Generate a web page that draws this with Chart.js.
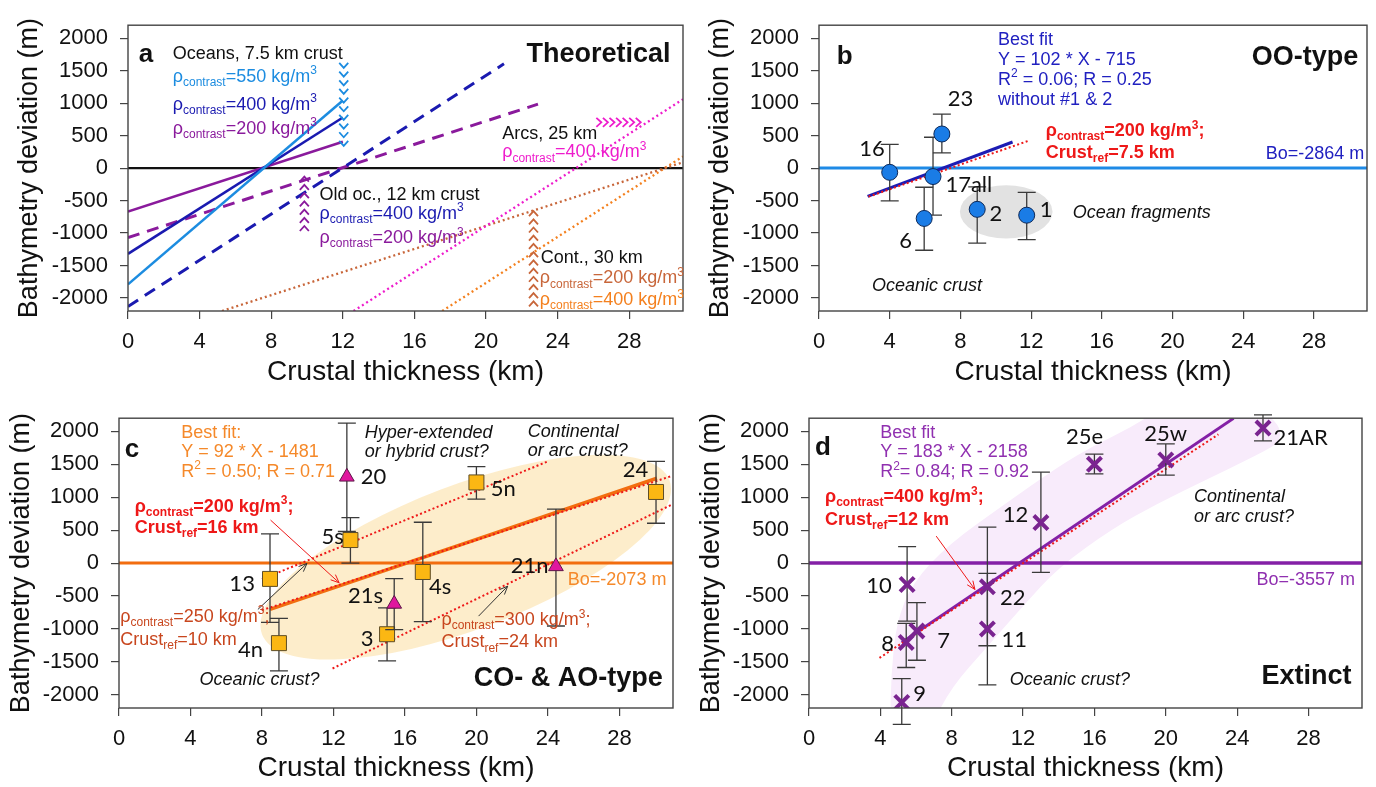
<!DOCTYPE html>
<html>
<head>
<meta charset="utf-8">
<script src="https://cdn.jsdelivr.net/npm/chart.js@4.4.1/dist/chart.umd.min.js"></script>
<style>
  body { margin: 0; background: #fff; }
  canvas { position: absolute; }
</style>
</head>
<body>
<canvas id="chartA" width="688" height="393" style="left:0;top:0"></canvas>
<canvas id="chartB" width="688" height="393" style="left:688px;top:0"></canvas>
<canvas id="chartC" width="688" height="394" style="left:0;top:393px"></canvas>
<canvas id="chartD" width="688" height="394" style="left:688px;top:393px"></canvas>
<script>
// ---- axes ----
const xTicks = [0, 4, 8, 12, 16, 20, 24, 28]
const yTicks = [-2000, -1500, -1000, -500, 0, 500, 1000, 1500, 2000]
const xRange = [0, 31]
const yRange = [-2200, 2200]

// ---- a: theoretical curves, [start, end] as (km, m) ----
const oceans550 = [[0, -1790], [12, 1040]]
const oceans400 = [[0, -1320], [12, 780]]
const oceans200 = [[0, -670], [12, 405]]
const oldOcean400 = [[0, -2130], [21, 1605]]
const oldOcean200 = [[0, -1070], [22.9, 985]]
const arcs400 = [[12.6, -2200], [31, 1060]]
const cont200 = [[5.25, -2200], [31, 90]]
const cont400 = [[17.55, -2200], [31, 180]]
const zeroLine = [[0, 0], [31, 0]]

// ---- b: OO-type ----
const ooNames = ['16', '23', '17all', '6', '2', '1']
const ooThickness = [4.0, 6.95, 6.45, 5.95, 8.95, 11.75]
const ooDeviation = [-65, 525, -130, -775, -635, -725]
const ooErrLow = [-505, 235, -725, -1265, -1155, -1100]
const ooErrHigh = [365, 830, 475, -295, -290, -375]
const ooFit = [102, -715]
const ooFitSpan = [2.75, 10.95]
const ooRef = [[2.8, -440], [11.9, 425]]

// ---- c: CO- & AO-type ----
const coNames = ['13', '4n', '5s', '3', '4s', '5n', '24']
const coThickness = [8.45, 8.95, 12.95, 15.0, 17.0, 20.0, 30.05]
const coDeviation = [-240, -1215, 350, -1080, -135, 1225, 1080]
const coErrLow = [-900, -1635, 0, -1485, -890, 970, 605]
const coErrHigh = [445, -840, 690, -680, 620, 1465, 1545]
const aoNames = ['20', '21s', '21n']
const aoThickness = [12.75, 15.4, 24.45]
const aoDeviation = [1310, -620, -50]
const aoErrLow = [480, -1010, -955]
const aoErrHigh = [2125, -235, 820]
const coFit = [92, -1481]
const coFitSpan = [8.45, 30.1]
const coRef16 = [[8.0, -715], [30.9, 1320]]
const coRef10 = [[8.0, -245], [24.0, 1545]]
const coRef24 = [[11.95, -1600], [30.95, 890]]

// ---- d: extinct ----
const exNames = ['10', '8', '7', '9', '22', '11', '12', '25e', '25w', '21AR']
const exThickness = [5.5, 5.45, 6.05, 5.2, 10.0, 10.0, 13.0, 16.0, 20.0, 25.45]
const exDeviation = [-325, -1205, -1030, -2115, -360, -1000, 615, 1500, 1565, 2050]
const exErrLow = [-880, -1585, -1475, -2450, -1255, -1850, -140, 1355, 1335, 1855]
const exErrHigh = [250, -915, -600, -1755, 545, -155, 1380, 1655, 1810, 2250]
const exFit = [183, -2158]
const exFitSpan = [5.2, 23.8]
const exRef12 = [[3.95, -1440], [22.95, 1955]]


const FONT = "'Liberation Sans', Arial, sans-serif"
const NUM_FONT = "Lato, 'Liberation Sans', sans-serif"

const C = {
    sky: '#1c8ce0', navy: '#1a1ab0', purple: '#8a1a9c', magenta: '#ee1ccc',
    brown: '#c8663a', orange: '#f4801e', red: '#ee1818', darkRed: '#c8461e',
    ooBlue: '#2020c0', ooLine: '#1e8ae6', coOrange: '#f26d0f', coText: '#f5892a',
    exPurple: '#8420a6', exText: '#9030b0'
}

function pts(list) {
    return list.map(p => ({ x: p[0], y: p[1] }))
}

function fitPts(fit, span) {
    // straight line from the stated slope / intercept
    return span.map(x => ({ x: x, y: fit[0] * x + fit[1] }))
}

function scatterPts(xs, ys) {
    return xs.map((x, i) => ({ x: x, y: ys[i] }))
}

function lineSet(list, color, width, dash, order) {
    return {
        data: list, showLine: true, borderColor: color, borderWidth: width,
        borderDash: dash || [], pointRadius: 0, fill: false, order: order
    }
}

function toPx(chart, x, y) {
    return [chart.scales.x.getPixelForValue(x), chart.scales.y.getPixelForValue(y)]
}

// text with _{sub} and ^{sup} pieces
function drawRich(ctx, text, x, y, o) {
    const size = o.size || 18
    const parts = []
    const re = /([_^])\{([^}]*)\}/g
    let last = 0, m
    while ((m = re.exec(text))) {
        if (m.index > last) parts.push({ t: text.slice(last, m.index), k: '' })
        parts.push({ t: m[2], k: m[1] })
        last = re.lastIndex
    }
    if (last < text.length) parts.push({ t: text.slice(last), k: '' })

    const font = k => `${o.style || 'normal'} ${o.weight || 'normal'} ${k ? Math.round(size * 0.65) : size}px ${o.family || FONT}`
    let total = 0
    parts.forEach(p => {
        ctx.font = font(p.k)
        p.w = ctx.measureText(p.t).width
        total += p.w
    })
    let cx = o.align === 'right' ? x - total : o.align === 'center' ? x - total / 2 : x
    ctx.fillStyle = o.color || '#111'
    ctx.textBaseline = 'middle'
    ctx.textAlign = 'left'
    parts.forEach(p => {
        ctx.font = font(p.k)
        const dy = p.k === '_' ? size * 0.32 : p.k === '^' ? -size * 0.32 : 0
        ctx.fillText(p.t, cx, y + dy)
        cx += p.w
    })
}

function drawNotes(ctx, chart, notes) {
    notes.forEach(n => {
        const p = toPx(chart, n.x, n.y)
        drawRich(ctx, n.t, p[0], p[1], n)
    })
}

// column / row of small chevrons
function drawChevrons(ctx, chart, c) {
    ctx.strokeStyle = c.color
    ctx.lineWidth = 1.8
    for (let i = 0; i < c.n; i++) {
        const f = c.n > 1 ? i / (c.n - 1) : 0
        const p = toPx(chart, c.x0 + (c.x1 - c.x0) * f, c.y0 + (c.y1 - c.y0) * f)
        ctx.beginPath()
        if (c.dir === 'down') {
            ctx.moveTo(p[0] - 4.5, p[1] - 2.5); ctx.lineTo(p[0], p[1] + 2.5); ctx.lineTo(p[0] + 4.5, p[1] - 2.5)
        } else if (c.dir === 'up') {
            ctx.moveTo(p[0] - 4.5, p[1] + 2.5); ctx.lineTo(p[0], p[1] - 2.5); ctx.lineTo(p[0] + 4.5, p[1] + 2.5)
        } else {
            ctx.moveTo(p[0] - 2.5, p[1] - 4.5); ctx.lineTo(p[0] + 2.5, p[1]); ctx.lineTo(p[0] - 2.5, p[1] + 4.5)
        }
        ctx.stroke()
    }
}

function drawArrow(ctx, chart, a) {
    const p0 = toPx(chart, a.from[0], a.from[1])
    const p1 = toPx(chart, a.to[0], a.to[1])
    const ang = Math.atan2(p1[1] - p0[1], p1[0] - p0[0])
    ctx.strokeStyle = a.color
    ctx.lineWidth = 1
    ctx.beginPath()
    ctx.moveTo(p0[0], p0[1])
    ctx.lineTo(p1[0], p1[1])
    ctx.moveTo(p1[0] - 9 * Math.cos(ang - 0.4), p1[1] - 9 * Math.sin(ang - 0.4))
    ctx.lineTo(p1[0], p1[1])
    ctx.lineTo(p1[0] - 9 * Math.cos(ang + 0.4), p1[1] - 9 * Math.sin(ang + 0.4))
    ctx.stroke()
}

function smoothClosed(ctx, list) {
    const n = list.length
    const mid = (a, b) => [(a[0] + b[0]) / 2, (a[1] + b[1]) / 2]
    const m0 = mid(list[n - 1], list[0])
    ctx.moveTo(m0[0], m0[1])
    for (let i = 0; i < n; i++) {
        const m = mid(list[i], list[(i + 1) % n])
        ctx.quadraticCurveTo(list[i][0], list[i][1], m[0], m[1])
    }
    ctx.closePath()
}

const errorBars = {
    id: 'errorBars',
    beforeDatasetDraw(chart, args) {
        const ds = chart.data.datasets[args.index]
        if (!ds.errLow) return
        const ctx = chart.ctx, ys = chart.scales.y
        ctx.save()
        ctx.strokeStyle = '#3a3a3a'
        ctx.lineWidth = 1.3
        args.meta.data.forEach((pt, i) => {
            const top = ys.getPixelForValue(ds.errHigh[i])
            const bot = ys.getPixelForValue(ds.errLow[i])
            ctx.beginPath()
            ctx.moveTo(pt.x, top); ctx.lineTo(pt.x, bot)
            ctx.moveTo(pt.x - 9, top); ctx.lineTo(pt.x + 9, top)
            ctx.moveTo(pt.x - 9, bot); ctx.lineTo(pt.x + 9, bot)
            ctx.stroke()
        })
        ctx.restore()
    }
}
Chart.register(errorBars)

function decorPlugin(decor) {
    return {
        id: 'decor',
        beforeDatasetsDraw(chart) {
            if (!decor.back) return
            const ctx = chart.ctx, a = chart.chartArea
            ctx.save()
            ctx.beginPath()
            ctx.rect(a.left, a.top, a.right - a.left, a.bottom - a.top)
            ctx.clip()
            decor.back(ctx, chart)
            ctx.restore()
        },
        afterDatasetsDraw(chart) {
            const ctx = chart.ctx, a = chart.chartArea
            ctx.save()
            ctx.strokeStyle = '#444'
            ctx.lineWidth = 1.4
            ctx.strokeRect(a.left, a.top, a.right - a.left, a.bottom - a.top)
            if (decor.front) decor.front(ctx, chart)
            drawNotes(ctx, chart, decor.notes || [])
            ctx.restore()
        }
    }
}

function makeChart(id, area, titlePad, datasets, decor) {
    const canvas = document.getElementById(id)
    const W = canvas.width, H = canvas.height
    return new Chart(canvas, {
        type: 'scatter',
        data: { datasets: datasets },
        options: {
            responsive: false,
            animation: false,
            events: [],
            layout: { padding: { left: 0, top: area[1], right: W - area[2], bottom: 0 } },
            plugins: { legend: { display: false }, tooltip: { enabled: false } },
            scales: {
                x: {
                    type: 'linear', min: xRange[0], max: xRange[1],
                    afterFit: s => { s.height = H - area[3] },
                    afterBuildTicks: s => { s.ticks = xTicks.map(v => ({ value: v })) },
                    grid: { drawOnChartArea: false, tickLength: 8, color: '#444', lineWidth: 1.2 },
                    border: { display: false },
                    ticks: { padding: 10, autoSkip: false, maxRotation: 0, color: '#111',
                        font: { size: 22, family: FONT }, callback: v => String(v) },
                    title: { display: true, text: 'Crustal thickness (km)', color: '#111',
                        font: { size: 28, family: FONT }, padding: { top: 0, bottom: titlePad[1] } }
                },
                y: {
                    type: 'linear', min: yRange[0], max: yRange[1],
                    afterFit: s => { s.width = area[0] },
                    afterBuildTicks: s => { s.ticks = yTicks.map(v => ({ value: v })) },
                    grid: { drawOnChartArea: false, tickLength: 8, color: '#444', lineWidth: 1.2 },
                    border: { display: false },
                    ticks: { padding: 12, color: '#111', font: { size: 22, family: FONT }, callback: v => String(v) },
                    title: { display: true, text: 'Bathymetry deviation (m)', color: '#111',
                        font: { size: 27, family: FONT }, padding: { top: titlePad[0], bottom: 0 } }
                }
            }
        },
        plugins: [decorPlugin(decor)]
    })
}

const rho = v => `ρ_{contrast}=${v} kg/m^{3}`

// ---------------- a: Theoretical ----------------
makeChart('chartA', [128, 21, 683, 311], [13.8, 4.2], [
    lineSet(pts(zeroLine), '#111', 2.2, [], 9),
    lineSet(pts(oceans550), C.sky, 2.5, [], 2),
    lineSet(pts(oceans400), C.navy, 2.5, [], 2),
    lineSet(pts(oceans200), C.purple, 2.5, [], 2),
    lineSet(pts(oldOcean400), C.navy, 3, [12, 8], 3),
    lineSet(pts(oldOcean200), C.purple, 3, [12, 8], 3),
    lineSet(pts(arcs400), C.magenta, 2.3, [2, 3], 4),
    lineSet(pts(cont200), C.brown, 2.3, [2, 3], 4),
    lineSet(pts(cont400), C.orange, 2.3, [2, 3], 4)
], {
    front(ctx, chart) {
        drawChevrons(ctx, chart, { x0: 12.05, x1: 12.05, y0: 1580, y1: 380, n: 10, dir: 'down', color: C.sky })
        drawChevrons(ctx, chart, { x0: 9.85, x1: 9.85, y0: -170, y1: -930, n: 7, dir: 'up', color: C.purple })
        drawChevrons(ctx, chart, { x0: 22.65, x1: 22.65, y0: -700, y1: -2090, n: 12, dir: 'up', color: C.brown })
        drawChevrons(ctx, chart, { x0: 26.3, x1: 28.5, y0: 705, y1: 705, n: 7, dir: 'right', color: C.magenta })
    },
    notes: [
        { t: 'a', x: 1.0, y: 1745, size: 26, weight: 'bold', align: 'center' },
        { t: 'Oceans, 7.5 km crust', x: 2.5, y: 1760 },
        { t: rho(550), x: 2.5, y: 1405, color: C.sky },
        { t: rho(400), x: 2.5, y: 975, color: C.navy },
        { t: rho(200), x: 2.5, y: 605, color: C.purple },
        { t: 'Theoretical', x: 30.3, y: 1745, size: 27, weight: 'bold', align: 'right' },
        { t: 'Arcs, 25 km', x: 20.9, y: 530 },
        { t: rho(400), x: 20.9, y: 240, color: C.magenta },
        { t: 'Old oc., 12 km crust', x: 10.7, y: -420 },
        { t: rho(400), x: 10.7, y: -700, color: C.navy },
        { t: rho(200), x: 10.7, y: -1080, color: C.purple },
        { t: 'Cont., 30 km', x: 23.05, y: -1385 },
        { t: rho(200), x: 23.0, y: -1700, color: C.brown },
        { t: rho(400), x: 23.0, y: -2030, color: C.orange }
    ]
})

// ---------------- b: OO-type ----------------
const ooLabelPos = [[3.0, 290], [8.0, 1060], [7.15, -255], [4.9, -1125], [10.0, -700], [12.85, -650]]

makeChart('chartB', [131, 21, 685, 311], [16.8, 4.2], [
    Object.assign({ data: scatterPts(ooThickness, ooDeviation), errLow: ooErrLow, errHigh: ooErrHigh, order: 0 },
        { pointStyle: 'circle', pointRadius: 8, backgroundColor: '#1a7ce6', borderColor: '#0c2858', borderWidth: 1 }),
    lineSet(fitPts(ooFit, ooFitSpan), '#1c1cb4', 3, [], 2),
    lineSet(pts(ooRef), C.red, 2, [2, 2.5], 1),
    lineSet(pts(zeroLine), C.ooLine, 3, [], 9)
], {
    back(ctx, chart) {
        const c = toPx(chart, 10.59, -673)
        const e = toPx(chart, 10.59 + 2.62, -673 - 410)
        ctx.fillStyle = '#e2e2e2'
        ctx.beginPath()
        ctx.ellipse(c[0], c[1], e[0] - c[0], e[1] - c[1], 0, 0, Math.PI * 2)
        ctx.fill()
    },
    notes: [
        { t: 'b', x: 1.45, y: 1713, size: 26, weight: 'bold', align: 'center' },
        { t: 'Best fit', x: 10.13, y: 1970, color: C.ooBlue },
        { t: `Y = ${ooFit[0]} * X - ${-ooFit[1]}`, x: 10.13, y: 1666, color: C.ooBlue },
        { t: 'R^{2} = 0.06; R = 0.25', x: 10.13, y: 1362, color: C.ooBlue },
        { t: 'without #1 & 2', x: 10.13, y: 1050, color: C.ooBlue },
        { t: 'OO-type', x: 30.5, y: 1708, size: 27, weight: 'bold', align: 'right' },
        { t: 'Bo=-2864 m', x: 30.85, y: 213, color: C.ooBlue, align: 'right' },
        { t: rho(200) + ';', x: 12.83, y: 568, color: C.red, weight: 'bold' },
        { t: 'Crust_{ref}=7.5 km', x: 12.83, y: 228, color: C.red, weight: 'bold' },
        { t: 'Ocean fragments', x: 14.35, y: -684, style: 'italic' },
        { t: 'Oceanic crust', x: 3.0, y: -1813, style: 'italic' }
    ].concat(ooNames.map((t, i) => ({ t: t, x: ooLabelPos[i][0], y: ooLabelPos[i][1], size: 22,
        family: NUM_FONT, align: t === '17all' ? 'left' : 'center' })))
})

// ---------------- c: CO- & AO-type ----------------
const coLabelPos = [[6.89, -319], [7.36, -1312], [11.95, 400], [13.89, -1145], [17.97, -360], [21.5, 1120], [28.9, 1413]]
const aoLabelPos = [[14.24, 1312], [13.79, -502], [22.98, -46]]

makeChart('chartC', [119, 25, 673, 315], [5.8, 2.2], [
    Object.assign({ data: scatterPts(aoThickness, aoDeviation), errLow: aoErrLow, errHigh: aoErrHigh, order: 0 },
        { pointStyle: 'triangle', pointRadius: 8.5, backgroundColor: '#e0169e', borderColor: '#5c1848', borderWidth: 1 }),
    Object.assign({ data: scatterPts(coThickness, coDeviation), errLow: coErrLow, errHigh: coErrHigh, order: 0.5 },
        { pointStyle: 'rect', pointRadius: 10.6, backgroundColor: '#fbb713', borderColor: '#5e4d26', borderWidth: 1 }),
    lineSet(pts(coRef16), C.red, 2, [2, 2.5], 1),
    lineSet(pts(coRef10), C.red, 2, [2, 2.5], 1),
    lineSet(pts(coRef24), C.red, 2, [2, 2.5], 1),
    lineSet(fitPts(coFit, coFitSpan), C.coOrange, 3.5, [], 2),
    lineSet(pts(zeroLine), C.coOrange, 3, [], 9)
], {
    back(ctx, chart) {
        // shaded envelope along the trend
        const p1 = toPx(chart, 8.0, -1080)
        const p2 = toPx(chart, 30.8, 1260)
        const a = Math.hypot(p2[0] - p1[0], p2[1] - p1[1]) / 2
        const rot = Math.atan2(p2[1] - p1[1], p2[0] - p1[0])
        ctx.fillStyle = 'rgba(250, 214, 140, 0.45)'
        ctx.beginPath()
        ctx.ellipse((p1[0] + p2[0]) / 2, (p1[1] + p2[1]) / 2, a, 72, rot, 0, Math.PI * 2)
        ctx.fill()
    },
    front(ctx, chart) {
        drawArrow(ctx, chart, { from: [7.77, -704], to: [10.52, -5], color: '#333' })
        drawArrow(ctx, chart, { from: [8.48, 653], to: [12.32, -299], color: C.red })
        drawArrow(ctx, chart, { from: [20.12, -805], to: [21.75, -350], color: '#333' })
    },
    notes: [
        { t: 'c', x: 0.72, y: 1717, size: 26, weight: 'bold', align: 'center' },
        { t: 'Best fit:', x: 3.48, y: 1980, color: C.coText },
        { t: `Y = ${coFit[0]} * X - ${-coFit[1]}`, x: 3.48, y: 1692, color: C.coText },
        { t: 'R^{2} = 0.50; R = 0.71', x: 3.48, y: 1388, color: C.coText },
        { t: 'Hyper-extended', x: 13.75, y: 1980, style: 'italic' },
        { t: 'or hybrid crust?', x: 13.75, y: 1682, style: 'italic' },
        { t: 'Continental', x: 22.87, y: 1996, style: 'italic' },
        { t: 'or arc crust?', x: 22.87, y: 1707, style: 'italic' },
        { t: rho(200) + ';', x: 0.88, y: 856, color: C.red, weight: 'bold' },
        { t: 'Crust_{ref}=16 km', x: 0.88, y: 527, color: C.red, weight: 'bold' },
        { t: rho(250) + ';', x: 0.07, y: -816, color: C.darkRed },
        { t: 'Crust_{ref}=10 km', x: 0.07, y: -1170, color: C.darkRed },
        { t: rho(300) + ';', x: 18.04, y: -866, color: C.darkRed },
        { t: 'Crust_{ref}=24 km', x: 18.04, y: -1205, color: C.darkRed },
        { t: 'Bo=-2073 m', x: 30.63, y: -258, color: C.coText, align: 'right' },
        { t: 'Oceanic crust?', x: 4.5, y: -1768, style: 'italic' },
        { t: 'CO- & AO-type', x: 30.43, y: -1753, size: 27, weight: 'bold', align: 'right' }
    ].concat(coNames.map((t, i) => ({ t: t, x: coLabelPos[i][0], y: coLabelPos[i][1], size: 22, family: NUM_FONT, align: 'center' })))
     .concat(aoNames.map((t, i) => ({ t: t, x: aoLabelPos[i][0], y: aoLabelPos[i][1], size: 22, family: NUM_FONT, align: 'center' })))
})

// ---------------- d: Extinct ----------------
const exLabelPos = [[3.93, -350], [4.41, -1231], [7.55, -1185], [6.2, -1981], [11.42, -527],
    [11.51, -1160], [11.57, 729], [15.45, 1910], [19.99, 1960], [27.56, 1895]]
const exBand = [[4.55, -2500], [4.6, -1700], [4.9, -900], [5.8, -300], [7.8, 280], [11, 900], [14, 1470],
    [16, 1790], [18.2, 2080], [20, 2400], [24.5, 2450], [26.3, 2150], [26.5, 1850], [25.2, 1650], [22, 1230],
    [19.5, 900], [17, 520], [14, -60], [12, -650], [10, -1270], [8, -1880], [6.8, -2500]]

makeChart('chartD', [121, 25, 676, 315], [7.8, 2.2], [
    Object.assign({ data: scatterPts(exThickness, exDeviation), errLow: exErrLow, errHigh: exErrHigh, order: 0 },
        { pointStyle: 'crossRot', pointRadius: 10, borderColor: '#7a2490', borderWidth: 4 }),
    lineSet(pts(exRef12), C.red, 2, [2, 2.5], 1),
    lineSet(fitPts(exFit, exFitSpan), C.exPurple, 3, [], 2),
    lineSet(pts(zeroLine), C.exPurple, 3.5, [], 9)
], {
    back(ctx, chart) {
        ctx.fillStyle = '#f8ebfb'
        ctx.beginPath()
        smoothClosed(ctx, exBand.map(p => toPx(chart, p[0], p[1])))
        ctx.fill()
    },
    front(ctx, chart) {
        drawArrow(ctx, chart, { from: [7.13, 410], to: [9.3, -400], color: C.red })
    },
    notes: [
        { t: 'd', x: 0.78, y: 1743, size: 26, weight: 'bold', align: 'center' },
        { t: 'Best fit', x: 3.99, y: 1980, color: C.exText },
        { t: `Y = ${exFit[0]} * X - ${-exFit[1]}`, x: 3.99, y: 1682, color: C.exText },
        { t: 'R^{2}= 0.84; R = 0.92', x: 3.99, y: 1378, color: C.exText },
        { t: rho(400) + ';', x: 0.9, y: 998, color: C.red, weight: 'bold' },
        { t: 'Crust_{ref}=12 km', x: 0.9, y: 653, color: C.red, weight: 'bold' },
        { t: 'Continental', x: 21.58, y: 998, style: 'italic' },
        { t: 'or arc crust?', x: 21.58, y: 694, style: 'italic' },
        { t: 'Oceanic crust?', x: 11.26, y: -1778, style: 'italic' },
        { t: 'Extinct', x: 30.41, y: -1728, size: 27, weight: 'bold', align: 'right' },
        { t: 'Bo=-3557 m', x: 30.61, y: -258, color: C.exText, align: 'right' }
    ].concat(exNames.map((t, i) => ({ t: t, x: exLabelPos[i][0], y: exLabelPos[i][1], size: 22, family: NUM_FONT, align: 'center' })))
})
</script>
</body>
</html>
